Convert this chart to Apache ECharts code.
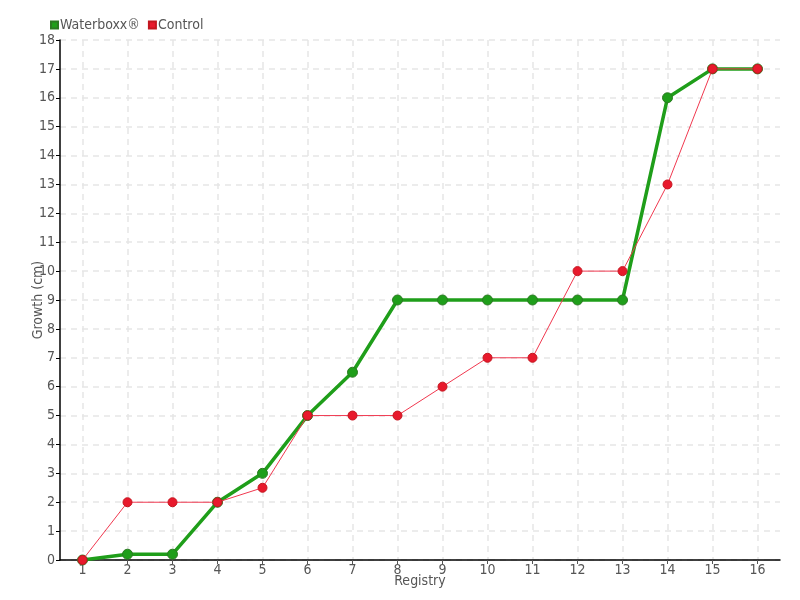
<!DOCTYPE html>
<html><head><meta charset="utf-8">
<script src="https://cdn.jsdelivr.net/npm/echarts@6/dist/echarts.min.js"></script>
<style>html,body{margin:0;padding:0;background:#fff}#c{width:800px;height:600px}</style>
</head><body><div id="c"></div>
<script>
const categories = ['1','2','3','4','5','6','7','8','9','10','11','12','13','14','15','16'];
const waterboxx = [0, 0.2, 0.2, 2, 3, 5, 6.5, 9, 9, 9, 9, 9, 9, 16, 17, 17];
const control = [0, 2, 2, 2, 2.5, 5, 5, 5, 6, 7, 7, 10, 10, 13, 17, 17];
const seriesNames = ['Waterboxx®', 'Control'];
const FONT = '"DejaVu Sans Condensed", "Liberation Sans Narrow", sans-serif';
const chart = echarts.init(document.getElementById('c'));
chart.setOption({
  animation: false,
  textStyle: { fontFamily: FONT },
  legend: {
    left: 45, top: 13, itemWidth: 7, itemHeight: 7, itemGap: 8,
    icon: 'rect',
    textStyle: { fontFamily: FONT, fontSize: 14, color: '#555', padding: [0,0,0,-3] },
    data: seriesNames
  },
  grid: { left: 60, right: 20, top: 40, bottom: 40 },
  xAxis: {
    type: 'category', data: categories, boundaryGap: true,
    name: 'Registry', nameLocation: 'middle', nameGap: 14, nameMoveOverlap: false,
    nameTextStyle: { fontFamily: FONT, fontSize: 14, color: '#555' },
    axisLine: { lineStyle: { color: '#000', width: 1.5 } },
    axisTick: { show: true, alignWithLabel: true, length: 4, lineStyle: { color: '#555' } },
    axisLabel: { fontFamily: FONT, fontSize: 14, color: '#555', margin: 3 },
    splitLine: { show: true, alignWithLabel: true, lineStyle: { color: '#e6e6e6', type: [6, 5], width: 1.5 } }
  },
  yAxis: {
    type: 'value', min: 0, max: 18, interval: 1,
    name: 'Growth (cm)', nameLocation: 'middle', nameGap: 15, nameMoveOverlap: false,
    nameTextStyle: { fontFamily: FONT, fontSize: 14, color: '#555' },
    axisLine: { show: true, lineStyle: { color: '#000', width: 1.5 } },
    axisTick: { show: true, length: 4, lineStyle: { color: '#000' } },
    axisLabel: { fontFamily: FONT, fontSize: 14, color: '#555', margin: 5 },
    splitLine: { show: true, lineStyle: { color: '#e6e6e6', type: [6, 5], width: 1.5 } }
  },
  series: [
    {
      name: seriesNames[0], type: 'line', data: waterboxx, z: 2,
      symbol: 'circle', symbolSize: 10,
      lineStyle: { color: '#1f9e1a', width: 3.5 },
      itemStyle: { color: '#1f9e1a', borderColor: '#2b7a22', borderWidth: 1 }
    },
    {
      name: seriesNames[1], type: 'line', data: control, z: 3,
      symbol: 'circle', symbolSize: 9,
      lineStyle: { color: '#f0384f', width: 1 },
      itemStyle: { color: '#e8192c', borderColor: '#c3161f', borderWidth: 1 }
    }
  ]
});
</script></body></html>
